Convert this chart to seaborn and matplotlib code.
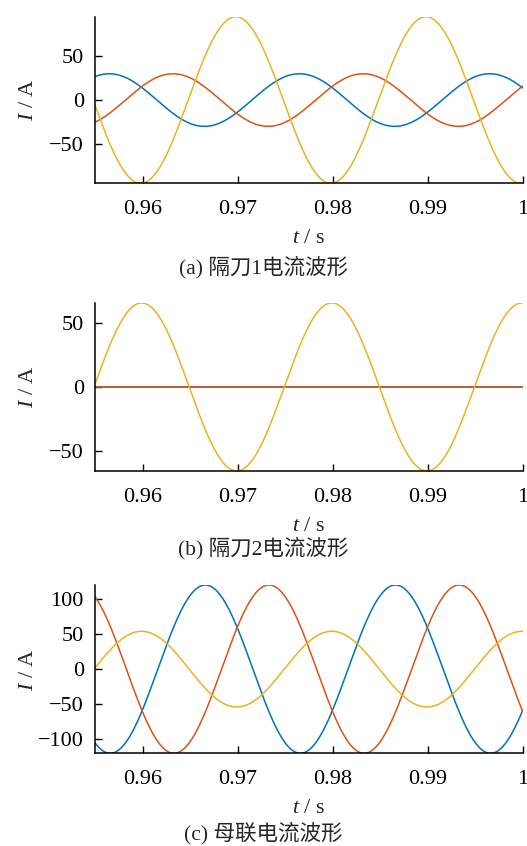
import numpy as np
import pandas as pd
import seaborn as sns
import matplotlib
matplotlib.use('Agg')
import matplotlib.pyplot as plt
from matplotlib.ticker import FormatStrFormatter

# waveform data (50 Hz sine waves)
freq = 50
t_range = [0.955, 1.0]
phases = ['A', 'B', 'C']
colors = ['#0072BD', '#D95319', '#EDB120']

# panel a: 隔刀1电流
a_amp = [30, 30, 95]
a_peak = [0.9565, 0.9632, 0.9698]
# panel b: 隔刀2电流 (only one phase carries current)
b_amp = [0, 0, 65.5]
b_peak = [0.9565, 0.9632, 0.9599]
# panel c: 母联电流
c_amp = [120, 120, 54]
c_peak = [0.9666, 0.9733, 0.9599]

captions = ['(a) 隔刀1电流波形', '(b) 隔刀2电流波形', '(c) 母联电流波形']
ylims = [95, 65.5, 120]
yticks = [[-50, 0, 50], [-50, 0, 50], [-100, -50, 0, 50, 100]]
xticks = [0.96, 0.97, 0.98, 0.99, 1.0]

sns.set_style('ticks')
plt.rcParams['font.family'] = ['Liberation Serif', 'Noto Sans CJK SC']
plt.rcParams['mathtext.fontset'] = 'custom'
plt.rcParams['mathtext.it'] = 'Liberation Serif:italic'
plt.rcParams['mathtext.rm'] = 'Liberation Serif'


def wave_frame(amps, peaks):
    t = np.linspace(t_range[0], t_range[1], 1201)
    rows = []
    for ph, A, tp in zip(phases, amps, peaks):
        rows.append(pd.DataFrame({'t': t, 'I': A * np.cos(2 * np.pi * freq * (t - tp)), 'phase': ph}))
    return pd.concat(rows, ignore_index=True)


fig = plt.figure(figsize=(5.27, 8.46), dpi=100)
boxes = [[0.1803, 0.7833, 0.812, 0.1969],
         [0.1803, 0.4433, 0.812, 0.1986],
         [0.1803, 0.1096, 0.812, 0.1989]]
cap_y = [0.6844, 0.3522, 0.0150]
panels = [(a_amp, a_peak), (b_amp, b_peak), (c_amp, c_peak)]

for i, (amps, peaks) in enumerate(panels):
    ax = fig.add_axes(boxes[i])
    df = wave_frame(amps, peaks)
    sns.lineplot(data=df, x='t', y='I', hue='phase', palette=colors, linewidth=1.1,
                 legend=False, ax=ax, estimator=None)
    ax.set_xlim(*t_range)
    ax.set_ylim(-ylims[i], ylims[i])
    ax.set_xticks(xticks)
    ax.xaxis.set_major_formatter(FormatStrFormatter('%g'))
    ax.set_yticks(yticks[i])
    ax.tick_params(direction='in', length=5, width=1, labelsize=16, colors='black')
    ax.tick_params(axis='x', pad=12)
    ax.tick_params(axis='y', pad=8)
    sns.despine(ax=ax)
    for s in ['left', 'bottom']:
        ax.spines[s].set_linewidth(1.1)
        ax.spines[s].set_color('black')
    ax.set_xlabel(r'$t$ / s', fontsize=16, va='center')
    ax.xaxis.set_label_coords(0.5, -0.33)
    ax.set_ylabel(r'$I$ / A', fontsize=16, va='center')
    ax.yaxis.set_label_coords(-0.155, 0.5)
    fig.text(0.5, cap_y[i], captions[i], ha='center', va='center', fontsize=15.5)

fig.savefig('out.png', dpi=100)
